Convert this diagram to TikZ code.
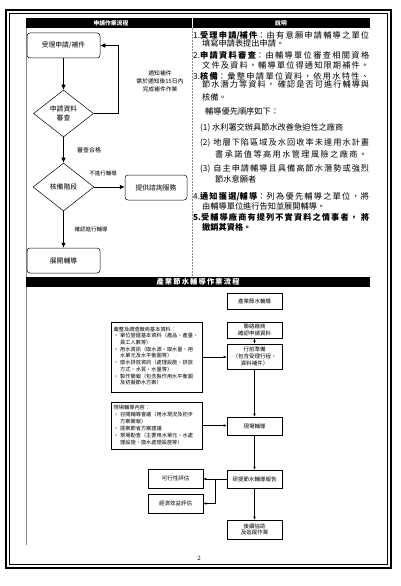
\documentclass[tikz,border=0pt]{standalone}
\usepackage{fontspec}
\usetikzlibrary{shapes.geometric,arrows.meta}
\newfontfamily\cjk{Noto Sans CJK TC}
\makeatletter
\newXeTeXintercharclass\cjkcls
\count@="3000
\loop \XeTeXcharclass\count@=\cjkcls \advance\count@ by 1 \ifnum\count@<"A000 \repeat
\count@="FF00
\loop \XeTeXcharclass\count@=\cjkcls \advance\count@ by 1 \ifnum\count@<"FFF0 \repeat
\makeatother
\XeTeXinterchartoks\cjkcls\cjkcls={\hskip0pt plus 3pt\relax}
\XeTeXinterchartokenstate=1
\begin{document}
\begin{tikzpicture}[x=1pt,y=-1pt,
  fbox/.style={draw, rounded corners=3pt, line width=0.5pt, minimum width=73pt, minimum height=25pt, inner sep=0pt, font=\cjk\fontsize{6.8}{8.5}\selectfont, align=center},
  dbox/.style={draw, diamond, line width=0.5pt, inner sep=0pt, minimum width=60pt, minimum height=47pt, font=\cjk\fontsize{6.8}{9}\selectfont, align=center},
  arr/.style={-{Latex[length=5pt,width=4.5pt]}, line width=0.6pt},
  lab/.style={font=\cjk\fontsize{6}{7}\selectfont, inner sep=0pt, align=center},
  htext/.style={text=white, font=\cjk\bfseries\fontsize{5.8}{7}\selectfont, inner sep=0pt},
  dtext/.style={anchor=base west, inner sep=0pt, font=\cjk\fontsize{8.2}{9}\selectfont},
  pbox/.style={draw, line width=0.6pt, minimum width=55pt, inner sep=0pt, font=\cjk\fontsize{5.5}{6.8}\selectfont, align=center},
  tbox/.style={draw, line width=0.8pt, minimum width=91pt, inner sep=0pt},
  ttext/.style={anchor=north west, inner sep=0pt, align=left},
  sarr/.style={-{Latex[length=3pt,width=2.6pt]}, line width=0.5pt},
  gline/.style={draw=black!45, line width=0.5pt},
]
\useasboundingbox (0,0) rectangle (401,586);
\fill[white] (0,0) rectangle (401,586);
% page frame
\draw[line width=1.6pt] (6,10) rectangle (391,568);
\draw[line width=0.5pt] (9.5,13.5) rectangle (387.5,564.5);
% header bars
\fill[black] (26,18) rectangle (370,28);
\draw[white, line width=0.6pt] (192,18) -- (192,28);
\fill[black] (26,277) rectangle (370,287);
\node[htext] (h1) at (109,23) {\hbox to 31pt{申請作業流程}};
\node[htext] (h2) at (281,23) {\hbox to 12pt{說明}};
\node[htext, font=\cjk\bfseries\fontsize{7.2}{8}\selectfont] (h3) at (198,282) {\hbox to 83pt{產業節水輔導作業流程}};
% table lines
\draw[gline] (26,28) -- (26,277);
\draw[gline, dash pattern=on 2pt off 1pt] (192,28) -- (192,277);
\draw[gline] (26,287) -- (26,545);

% ---- top left flow chart
\node[fbox] (a) at (63.5,45.5) {受理申請/補件};
\node[dbox] (b) at (63.5,113.5) {申請資料\\審查};
\node[dbox, minimum width=61pt, minimum height=48pt] (c) at (63.5,187) {核備階段};
\node[fbox, minimum width=62pt] (d) at (156,187.5) {提供諮詢服務};
\node[fbox] (e) at (63.5,260.5) {展開輔導};
\coordinate (loop) at (118,45.5);
\draw[arr] (a) -- (b);
\draw[arr] (b.east) -| (loop) -- (a.east);
\node[lab, font=\cjk\fontsize{5.8}{8}\selectfont] (l1) at (160,81) {通知補件\\需於通知後15日內\\完成補件作業};
\draw[arr] (b) -- (c);
\node[lab] (l2) at (89,150) {審查合格};
\draw[arr] (c.east) -- (c.east -| d.west);
\node[lab, font=\cjk\fontsize{5.5}{7}\selectfont] (l3) at (103,173) {不進行輔導};
\draw[arr] (c) -- (e);
\node[lab, font=\cjk\fontsize{5.5}{7}\selectfont] (l4) at (91,229) {確認進行輔導};

% ---- description text
\node[dtext] (t1) at (193,38) {\hbox to 176pt{1.{\bfseries 受理申請/補件}：由有意願申請輔導之單位}};
\node[dtext] (t2) at (202,47) {填寫申請表提出申請。};
\node[dtext] (t3) at (193,59) {\hbox to 176pt{2.{\bfseries 申請資料審查}：由輔導單位審查相關資格}};
\node[dtext] (t4) at (202,69) {\hbox to 167pt{文件及資料，輔導單位得通知限期補件。}};
\node[dtext] (t5) at (193,79) {\hbox to 176pt{3.{\bfseries 核備}：彙整申請單位資料，依用水特性、}};
\node[dtext] (t6) at (202,88) {\hbox to 167pt{節水潛力等資料，\hspace{3pt}確認是否可進行輔導與}};
\node[dtext] (t7) at (202,100) {核備。};
\node[dtext] (t8) at (205,114) {輔導優先順序如下：};
\node[dtext] (t9) at (200,130) {(1) 水利署交辦具節水改善急迫性之廠商};
\node[dtext] (t10) at (200,145) {\hbox to 169pt{(2)\hspace{3pt}地層下陷區域及水回收率未達用水計畫}};
\node[dtext] (t11) at (215,157) {\hbox to 152pt{書承諾值等高用水管理風險之廠商。}};
\node[dtext] (t12) at (200,171) {\hbox to 169pt{(3)\hspace{3pt}自主申請輔導且具備高節水潛勢或強烈}};
\node[dtext] (t13) at (215,182) {節水意願者};
\node[dtext] (t14) at (193,199) {\hbox to 176pt{4.{\bfseries 通知獲選/輔導}：列為優先輔導之單位，將}};
\node[dtext] (t15) at (202,209) {由輔導單位進行告知並展開輔導。};
\node[dtext] (t16) at (193,220) {\hbox to 176pt{\bfseries 5.受輔導廠商有提列不實資料之情事者，\hspace{3pt}將}};
\node[dtext] (t17) at (202,230) {\bfseries 撤銷其資格。};

% ---- bottom flow chart
\node[pbox, minimum height=16pt] (p1) at (254.5,301) {產業節水輔導};
\node[pbox, minimum height=16pt] (p2) at (254.5,330) {聯絡廠商\\確認申請資料};
\node[pbox, minimum height=25pt] (p3) at (254.5,356.5) {行前準備\\（包含受理行程、\\資料補件）};
\node[pbox, minimum height=18pt] (p4) at (254.5,426) {現場輔導};
\node[pbox, minimum height=18pt] (p5) at (254.5,479) {研提節水輔導報告};
\node[pbox, minimum height=19pt] (p6) at (254.5,529.5) {後續協助\\及追蹤作業};
\node[pbox, minimum height=19pt] (q1) at (175.5,478.5) {可行性評估};
\node[pbox, minimum height=19pt] (q2) at (175.5,503.5) {經濟效益評估};
\draw[sarr] (p2) -- (p3);
\draw[sarr] (p3) -- (p4);
\draw[sarr] (p4) -- (p5);
\draw[sarr] (p5) -- (p6);
\draw[sarr] (p5.west) -- (p5.west -| q1.east);
\coordinate (br) at (215,479);
\draw[sarr] (br) |- (q2.east);

\node[tbox, minimum height=70pt] (L1) at (156.5,357) {};
\node[ttext, font=\cjk\fontsize{5.2}{6.7}\selectfont] (L1t) at (113.5,326.5) {彙整及調查廠商基本資料：\\
\makebox[6.5pt][l]{•}單位營運基本資料（產品、產量、\\
\hspace*{6.5pt}員工人數等）\\
\makebox[6.5pt][l]{•}用水資訊（取水源、取水量、用\\
\hspace*{6.5pt}水單元及水平衡圖等）\\
\makebox[6.5pt][l]{•}廢水排放資訊（處理設施、排放\\
\hspace*{6.5pt}方式、水質、水量等）\\
\makebox[6.5pt][l]{•}製作簡報（包含製作用水平衡圖\\
\hspace*{6.5pt}及初擬節水方案）};
\node[tbox, minimum height=47pt] (L2) at (156.5,425.5) {};
\node[ttext, font=\cjk\fontsize{5.2}{7}\selectfont] (L2t) at (113.5,404.5) {現場輔導內容：\\
\makebox[6.5pt][l]{•}召開輔導會議（用水現況及初步\\
\hspace*{6.5pt}方案簡報）\\
\makebox[6.5pt][l]{•}提案節省方案建議\\
\makebox[6.5pt][l]{•}現場勘查（主要用水單元、水處\\
\hspace*{6.5pt}理設施、廢水處理設施等）};
\draw[sarr] (L1.east) -- (L1.east -| p3.west);
\draw[sarr] (L2.east) -- (L2.east -| p4.west);

\node[inner sep=0pt, font=\fontsize{6.5}{7}\selectfont] (pg) at (199,558) {2};
\end{tikzpicture}
\end{document}
